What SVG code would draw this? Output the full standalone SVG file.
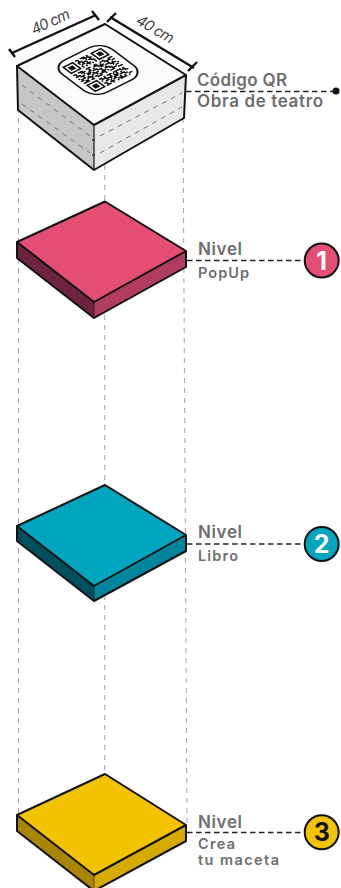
<svg xmlns="http://www.w3.org/2000/svg" width="341" height="888" viewBox="0 0 341 888">
<style>
.edge{stroke:#111;stroke-width:2;stroke-linejoin:round;stroke-linecap:round}
.thin{stroke:#111;stroke-width:1.2;stroke-linejoin:round}
.guide{fill:none;stroke:#a4a4a4;stroke-width:1;stroke-dasharray:5 5}
.lead{fill:none;stroke:#222;stroke-width:1.6;stroke-dasharray:5.5 3.5}
.inner{fill:none;stroke:#777;stroke-width:1;stroke-dasharray:5 5}
.dim{fill:none;stroke:#111;stroke-width:2.4}
.t{font-family:"Inter","Liberation Sans",sans-serif;font-weight:600;fill:#6e6e6e}
.big{font-size:17px}
.small{font-size:14.500px}
.cm{font-family:"Inter","Liberation Sans",sans-serif;font-style:italic;font-size:15px;fill:#444}
.num{font-family:"Inter","Liberation Sans",sans-serif;font-weight:700;font-size:25px;text-anchor:middle}
</style>
<g id="connectors">
<path class="guide" d="M18.500 108V815"/>
<path class="guide" d="M104.700 165V774"/>
<path class="guide" d="M183 118L187 825"/>
<path class="lead" d="M186 91.500H333"/>
<path class="lead" d="M187 260.500H304"/>
<path class="lead" d="M187 544H304"/>
<path class="lead" d="M187 832.500H304"/>
<circle cx="336" cy="91" r="3.500" fill="#111"/>
</g>
<g id="box">
<path d="M17 66L94 125V170L18 110Z" fill="#c6c6c6"/>
<path d="M186 75L94 125V170L184 118Z" fill="#e8e8e8"/>
<path d="M105 24L186 75L94 125L17 66Z" fill="#fbfbfb"/>
<path class="inner" d="M22 85L90 136M22 104L90 153M100 136L182 93M100 153L182 107"/>
<path class="thin" fill="none" d="M94 125V170M92 140h3M92 155h3"/>
<path class="edge" fill="none" d="M17 66L105 24L186 75L94 125L17 66L18 110L94 170L184 118L186 75"/>
<g id="qr" transform="matrix(1.56 -.78 1.33 1 61.9 67.2)">
<rect x="-3.500" y="-3.500" width="32" height="32" rx="8" fill="#fff" stroke="#111" stroke-width="1"/>
<path fill="none" stroke="#111" stroke-width="1" d="M.5 .5h6v6h-6zM18.500 .5h6v6h-6zM.5 18.500h6v6h-6z"/>
<path fill="#111" d="M2 2h3v3h-3zM20 2h3v3h-3zM2 20h3v3h-3z"/>
<path fill="none" stroke="#111" stroke-width="1" d="M8 .5h2M11 .5h3M15 .5h1M9 1.500h1M12 1.500h4M8 2.500h3M13 2.500h1M15 2.500h2M8 3.500h1M10 3.500h3M14 3.500h2M9 4.500h2M12 4.500h1M15 4.500h2M8 5.500h1M11 5.500h3M16 5.500h1M8 6.500h1M10 6.500h1M12 6.500h1M14 6.500h1M16 6.500h1M0 8.500h2M3 8.500h3M8 8.500h3M13 8.500h2M17 8.500h3M22 8.500h3M1 9.500h1M4 9.500h3M9 9.500h1M12 9.500h3M16 9.500h1M19 9.500h4M0 10.500h3M5 10.500h1M8 10.500h2M11 10.500h1M14 10.500h4M20 10.500h1M23 10.500h2M2 11.500h3M6 11.500h3M10 11.500h3M15 11.500h2M18 11.500h3M22 11.500h1M0 12.500h1M3 12.500h1M6 12.500h2M9 12.500h1M12 12.500h3M17 12.500h1M20 12.500h4M1 13.500h3M5 13.500h1M8 13.500h4M14 13.500h1M16 13.500h3M21 13.500h1M24 13.500h1M0 14.500h2M4 14.500h4M10 14.500h1M13 14.500h3M18 14.500h2M22 14.500h2M2 15.500h2M6 15.500h1M8 15.500h2M11 15.500h4M16 15.500h1M19 15.500h3M0 16.500h4M5 16.500h2M9 16.500h3M14 16.500h1M17 16.500h3M22 16.500h3M8 18.500h2M11 18.500h1M13 18.500h3M17 18.500h5M23 18.500h1M9 19.500h3M14 19.500h1M16 19.500h1M18 19.500h1M21 19.500h3M8 20.500h1M11 20.500h4M16 20.500h3M20 20.500h1M23 20.500h2M10 21.500h2M13 21.500h1M15 21.500h3M19 21.500h3M8 22.500h2M12 22.500h1M14 22.500h2M18 22.500h1M21 22.500h2M9 23.500h1M11 23.500h3M16 23.500h3M20 23.500h1M23 23.500h2M8 24.500h3M12 24.500h1M15 24.500h1M17 24.500h4M22 24.500h1"/>
</g>
<path class="dim" d="M12 53L96 15M9 49L15 57M92 11L99 20M110 17L194 68M107 22L116 13M188 71L197 62"/>
<text class="cm" transform="translate(34 35) rotate(-25)" textLength="41">40 cm</text>
<text class="cm" transform="translate(135 23) rotate(31)" textLength="41">40 cm</text>
<text class="t big" x="197" y="86" textLength="90">Código QR</text>
<text class="t big" x="197" y="106.500" textLength="126">Obra de teatro</text>
</g>
<g id="level1">
<path d="M17 242L94 302V318L17 258Z" fill="#6e2340"/>
<path d="M186 251L94 302V318L186 267Z" fill="#b23b60"/>
<path d="M105 201.500L186 251L94 302L17 242Z" fill="#e44d74"/>
<path class="edge" fill="none" d="M17 242L105 201.500L186 251L94 302L17 242V258L94 318L186 267V251"/>
<path d="M94 302V318" class="thin" stroke-opacity=".5"/>
<text class="t big" x="198" y="254.500" textLength="44">Nivel</text>
<text class="t small" x="198" y="277.500" textLength="51">PopUp</text>
<circle cx="321.700" cy="260.500" r="17" fill="#e44d74" stroke="#111" stroke-width="2"/>
<text class="num" x="321.700" y="269.500" fill="#fff">1</text>
</g>
<g id="level2">
<path d="M17 526L94 586V601L17 541Z" fill="#004f5f"/>
<path d="M186 535L94 586V601L186 551Z" fill="#00869c"/>
<path d="M105 485L186 535L94 586L17 526Z" fill="#00a6c0"/>
<path class="edge" fill="none" d="M17 526L105 485L186 535L94 586L17 526V541L94 601L186 551V535"/>
<path d="M94 586V601" class="thin" stroke-opacity=".5"/>
<text class="t big" x="198" y="537.500" textLength="44">Nivel</text>
<text class="t small" x="198" y="560.500" textLength="40">Libro</text>
<circle cx="321.700" cy="544" r="17" fill="#00a6c0" stroke="#111" stroke-width="2"/>
<text class="num" x="321.700" y="553" fill="#fff">2</text>
</g>
<g id="level3">
<path d="M17 815L94 875V891L17 831Z" fill="#a98500"/>
<path d="M186 825L94 875V891L186 841Z" fill="#d6ab00"/>
<path d="M105 774L186 825L94 875L17 815Z" fill="#f3c300"/>
<path class="edge" fill="none" d="M17 815L105 774L186 825L94 875L17 815V831L94 891L186 841V825"/>
<path d="M94 875V888" class="thin" stroke-opacity=".5"/>
<text class="t big" x="198" y="828.300" textLength="44">Nivel</text>
<text class="t small" x="198" y="848.500" textLength="37">Crea</text>
<text class="t small" x="198" y="864.500" textLength="81">tu maceta</text>
<circle cx="321.700" cy="832.300" r="17" fill="#f3c300" stroke="#111" stroke-width="2"/>
<text class="num" x="321.700" y="841.300" fill="#111">3</text>
</g>
</svg>
